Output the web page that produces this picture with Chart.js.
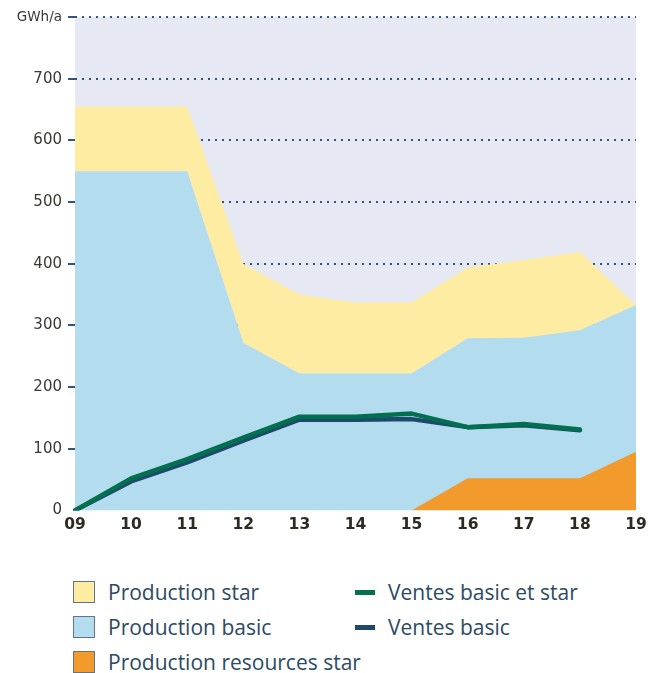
<!DOCTYPE html>
<html>
<head>
<meta charset="utf-8">
<title>Production et ventes</title>
<script src="https://cdn.jsdelivr.net/npm/chart.js@4.4.0/dist/chart.umd.min.js"></script>
<style>
    body { margin: 0; background: #fff; font-family: "Open Sans", sans-serif; }
    #wrap { position: relative; width: 654px; height: 673px; overflow: hidden; }
    #box { position: absolute; left: 0; top: 0; width: 654px; height: 539px; }
    #legend {
        position: absolute; left: 73px; top: 581px;
        display: grid; grid-template-columns: 282px auto; grid-auto-rows: 35px;
        color: #2c4a62; font-size: 21px;
    }
    .item { display: flex; align-items: center; height: 22px; white-space: nowrap; }
    .swatch { flex-shrink: 0; box-sizing: border-box; width: 22px; height: 22px; border: 1px solid #5f7488; margin-right: 13px; }
    .line { flex-shrink: 0; width: 20px; height: 5px; margin-right: 13px; }
</style>
</head>
<body>
<div id="wrap">
    <div id="box"><canvas id="prodChart"></canvas></div>
    <div id="legend"></div>
</div>
<script>
// Years (20xx)
const years = ['09', '10', '11', '12', '13', '14', '15', '16', '17', '18', '19'];

// GWh/a
const prodBasic     = [550, 550, 550, 272, 222, 222, 222, 279, 280, 292, 333];
const prodStar      = [105, 105, 105, 128, 128, 115, 115, 115, 126, 127, 0];
const prodResources = [null, null, null, null, null, null, 0, 52, 52, 52, 95];
const ventesTotal   = [0, 52, 83, 118, 152, 152, 157, 135, 140, 131, null];
const ventesBasic   = [0, 47, 78, 113, 147, 147, 148, 135, 138, 130, null];

const yMax = 800;
const yUnit = 'GWh/a';

// star sits on top of basic
const prodStarTop = prodBasic.map((v, i) => v + prodStar[i]);

// plot background
const plotBg = {
    id: 'plotBg',
    beforeDraw(chart) {
        const a = chart.chartArea;
        const ctx = chart.ctx;
        ctx.save();
        ctx.fillStyle = '#e6e9f3';
        ctx.fillRect(a.left, a.top, a.right - a.left, a.bottom - a.top);
        ctx.restore();
    }
};

const chart = new Chart(document.getElementById('prodChart').getContext('2d'), {
    type: 'line',
    data: {
        labels: years,
        datasets: [
            {
                label: 'Ventes basic et star',
                data: ventesTotal,
                borderColor: '#00704f',
                borderWidth: 4.5,
                fill: false,
                order: 0
            },
            {
                label: 'Ventes basic',
                data: ventesBasic,
                borderColor: '#1d4a6b',
                borderWidth: 4.5,
                fill: false,
                order: 0
            },
            {
                label: 'Production resources star',
                data: prodResources,
                backgroundColor: '#f39a2d',
                borderWidth: 0,
                fill: 'origin',
                order: 1
            },
            {
                label: 'Production basic',
                data: prodBasic,
                backgroundColor: '#b3ddee',
                borderWidth: 0,
                fill: 'origin',
                order: 2
            },
            {
                label: 'Production star',
                data: prodStarTop,
                backgroundColor: '#feeca2',
                borderWidth: 0,
                fill: 3,
                order: 3
            }
        ]
    },
    options: {
        responsive: true,
        maintainAspectRatio: false,
        animation: false,
        elements: {
            point: { radius: 0, hoverRadius: 0 },
            line: { tension: 0, borderJoinStyle: 'round', borderCapStyle: 'round' }
        },
        layout: {
            padding: { top: 17, right: 18, left: 0, bottom: 0 }
        },
        plugins: {
            legend: { display: false },
            tooltip: { enabled: false }
        },
        scales: {
            x: {
                offset: false,
                grid: { display: false, drawTicks: false },
                border: { display: false },
                ticks: {
                    padding: 5,
                    color: '#2e2a22',
                    font: { family: 'DejaVu Sans', size: 15.5, weight: 'bold' },
                    maxRotation: 0,
                    autoSkip: false
                }
            },
            y: {
                min: 0,
                max: yMax,
                z: 1,
                afterFit: function(scale) { scale.width = 75; },
                grid: {
                    color: ctx => ctx.tick && ctx.tick.value === 0 ? 'rgba(0,0,0,0)' : '#2f5577',
                    lineWidth: 2,
                    tickLength: 7,
                    drawTicks: true
                },
                border: { display: false, dash: [2, 5] },
                ticks: {
                    stepSize: 100,
                    padding: 6,
                    color: '#3b3833',
                    font: ctx => ({ family: 'DejaVu Sans', size: ctx.tick && ctx.tick.value === yMax ? 13.5 : 15 }),
                    callback: v => v === yMax ? yUnit : v
                }
            }
        }
    },
    plugins: [plotBg]
});

// Legend (two columns, like the print version)
const legendOrder = [4, 0, 3, 1, 2];
const legendEl = document.getElementById('legend');
legendOrder.forEach(i => {
    const ds = chart.data.datasets[i];
    const item = document.createElement('div');
    item.className = 'item';
    const sw = document.createElement('span');
    if (ds.fill === false) {
        sw.className = 'line';
        sw.style.background = ds.borderColor;
    } else {
        sw.className = 'swatch';
        sw.style.background = ds.backgroundColor;
    }
    item.appendChild(sw);
    item.appendChild(document.createTextNode(ds.label));
    legendEl.appendChild(item);
});
</script>
</body>
</html>
